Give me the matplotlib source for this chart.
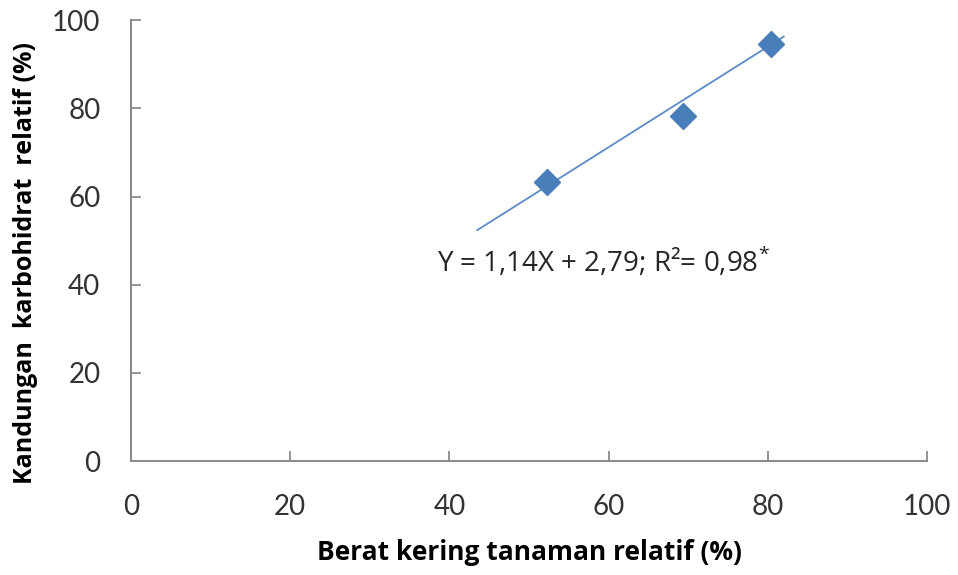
import numpy as np
import matplotlib.pyplot as plt

# berat kering vs kandungan karbohidrat (relatif, %)
berat_kering = [52.3, 69.4, 80.4]
karbohidrat = [63.3, 78.3, 94.5]

# garis regresi dari persamaan
slope = 1.14
intercept = 2.79
x_fit_range = [43.5, 82.0]

ticks = [0, 20, 40, 60, 80, 100]

plt.rcParams['font.family'] = ['Lato', 'DejaVu Sans']
plt.rcParams['mathtext.fontset'] = 'custom'
plt.rcParams['mathtext.rm'] = 'Open Sans'

label_font = ['Open Sans', 'DejaVu Sans']

fig = plt.figure(figsize=(9.58, 5.75), dpi=100)
ax = fig.add_axes([0.1367, 0.198, 0.831, 0.767])

x_fit = np.array(x_fit_range)
ax.plot(x_fit, slope * x_fit + intercept, color='#5B8CC6', lw=1.3, zorder=2)
ax.plot(berat_kering, karbohidrat, linestyle='none', marker='D', ms=13,
        color='#4A7EBB', zorder=3)

ax.text(59.4, 45.1, 'Y = 1,14X + 2,79; R\u00b2= 0,98$^{*}$', fontsize=20,
        family=label_font, ha='center', va='center', color='#262626')

ax.set_xlim(0, 100)
ax.set_ylim(0, 100)
ax.set_xticks(ticks)
ax.set_yticks(ticks)

for side in ['top', 'right']:
    ax.spines[side].set_visible(False)
for side in ['left', 'bottom']:
    ax.spines[side].set_color('#8C8C8C')
    ax.spines[side].set_linewidth(1.5)

ax.tick_params(axis='both', direction='in', length=7, width=1.3,
               color='#8C8C8C', labelsize=20, labelcolor='#333333')
ax.tick_params(axis='x', pad=24)
ax.tick_params(axis='y', pad=22)

ax.set_xlabel('Berat kering tanaman relatif (%)', fontsize=19,
              family=label_font, fontweight='bold', labelpad=13)
ax.set_ylabel('Kandungan  karbohidrat  relatif (%)', fontsize=18,
              family=label_font, fontweight='bold')
ax.yaxis.set_label_coords(-0.117, 0.45)

fig.savefig('out.png', dpi=100)
